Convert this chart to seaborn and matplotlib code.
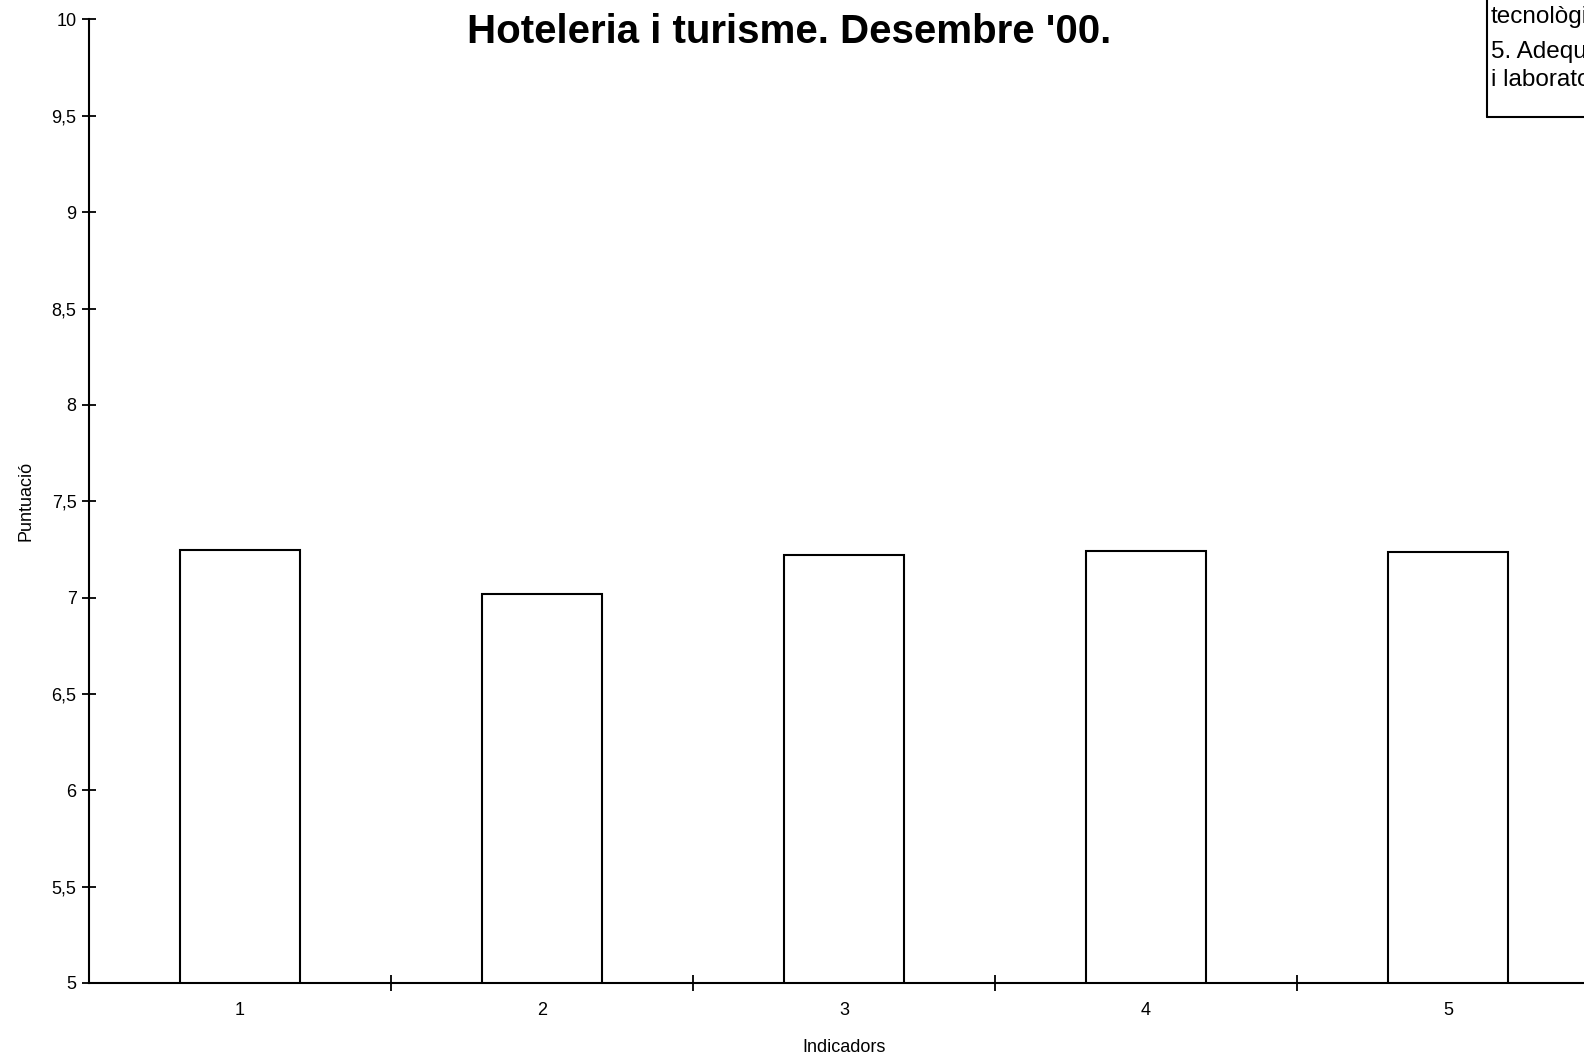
import matplotlib.pyplot as plt
import seaborn as sns
import pandas as pd

# dades
indicadors = ["1", "2", "3", "4", "5"]
puntuacio = [7.245, 7.02, 7.22, 7.24, 7.235]
y_ticks = [5, 5.5, 6, 6.5, 7, 7.5, 8, 8.5, 9, 9.5, 10]
y_tick_labels = ["5", "5,5", "6", "6,5", "7", "7,5", "8", "8,5", "9", "9,5", "10"]
llegenda = ["4. Adequació dels recursos", "tecnològics", "5. Adequació de les aules", "i laboratoris"]

sns.set_theme(style="white")
plt.rcParams['font.family'] = ['Liberation Sans', 'DejaVu Sans']
plt.rcParams['text.color'] = 'black'
plt.rcParams['axes.labelcolor'] = 'black'
plt.rcParams['xtick.color'] = 'black'
plt.rcParams['ytick.color'] = 'black'

df = pd.DataFrame({"indicador": indicadors, "puntuacio": puntuacio})

fig = plt.figure(figsize=(15.84, 10.58), dpi=100)
W, H = 1584, 1058
# l'eix continua una mica més enllà del marge dret
ax = fig.add_axes([89 / W, (H - 983) / H, (1599 - 89) / W, (983 - 19.5) / H])

sns.barplot(data=df, x="indicador", y="puntuacio", ax=ax, width=0.4,
            color="white", edgecolor="black", linewidth=1.5, saturation=1)

ax.set_ylim(5, 10)
ax.set_xlim(-0.5, len(indicadors) - 0.5)
ax.set_yticks(y_ticks)
ax.set_yticklabels(y_tick_labels, fontsize=13)
ax.set_xticks(range(len(indicadors)))
ax.set_xticklabels(indicadors, fontsize=13)
ax.set_xticks([i + 0.5 for i in range(len(indicadors))], minor=True)

ax.tick_params(axis="y", left=True, direction="inout", length=10, width=1.3, pad=4)
ax.tick_params(axis="x", which="major", length=0, pad=14)
ax.tick_params(axis="x", which="minor", direction="inout", length=12, width=1.3, bottom=True)

for s in ["top", "right"]:
    ax.spines[s].set_visible(False)
for s in ["left", "bottom"]:
    ax.spines[s].set_color("black")
    ax.spines[s].set_linewidth(1.5)

ax.set_xlabel("Indicadors", fontsize=13, labelpad=14)
ax.set_ylabel("Puntuació", fontsize=13, labelpad=12)

fig.text(789 / W, 1 - 32 / H, "Hoteleria i turisme. Desembre '00.", ha="center", va="center",
         fontsize=29, fontweight="bold")

# llegenda retallada a la cantonada
y_pos = [-15, 17, 52, 80]
for txt, yp in zip(llegenda, y_pos):
    fig.text(1491 / W, 1 - yp / H, txt, ha="left", va="center", fontsize=17.5)
fig.add_artist(plt.Line2D([1487 / W, 1487 / W], [1, 1 - 117 / H], color="black", lw=1.5))
fig.add_artist(plt.Line2D([1487 / W, 1], [1 - 117 / H, 1 - 117 / H], color="black", lw=1.5))

plt.savefig("out.png", dpi=100)
plt.close()
